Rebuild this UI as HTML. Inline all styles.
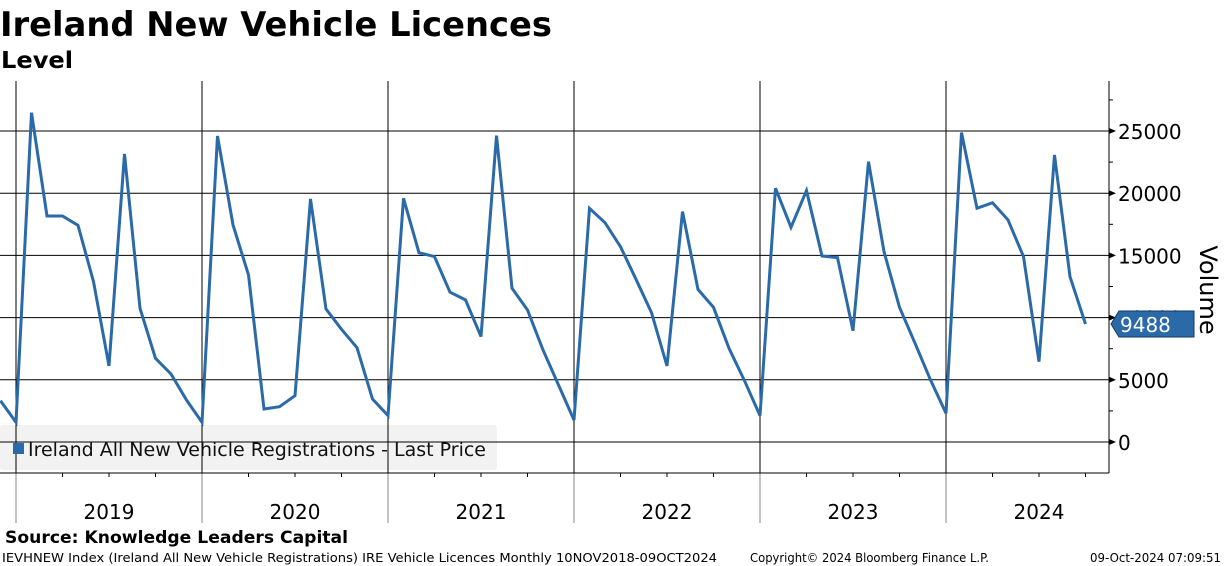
<!DOCTYPE html>
<html><head><meta charset="utf-8"><style>
html,body{margin:0;padding:0;background:#fff;width:1224px;height:566px;overflow:hidden}
svg{display:block}
text{font-family:"DejaVu Sans","Liberation Sans",sans-serif}
</style></head><body>
<svg id="chart" width="1224" height="566" viewBox="0 0 1224 566">
<text x="0" y="36" font-size="34" font-weight="bold" textLength="552" lengthAdjust="spacingAndGlyphs">Ireland New Vehicle Licences</text>
<text x="1" y="68" font-size="23" font-weight="bold" textLength="72" lengthAdjust="spacingAndGlyphs">Level</text>
<rect x="0" y="425" width="497" height="45" rx="3" fill="#f2f2f2"/>
<g id="grid"></g>
<rect x="13" y="443" width="11" height="11" fill="#2b6aa8"/>
<text x="28" y="456" font-size="19" fill="#111" textLength="458" lengthAdjust="spacingAndGlyphs">Ireland All New Vehicle Registrations - Last Price</text>
<g id="marks"></g>
<text transform="translate(1200,290) rotate(90)" font-size="24" text-anchor="middle">Volume</text>
<text x="5" y="543" font-size="17" font-weight="bold" textLength="343" lengthAdjust="spacingAndGlyphs">Source: Knowledge Leaders Capital</text>
<text x="2" y="562" font-size="12" textLength="715" lengthAdjust="spacingAndGlyphs">IEVHNEW Index (Ireland All New Vehicle Registrations) IRE Vehicle Licences  Monthly 10NOV2018-09OCT2024</text>
<text x="750" y="562" font-size="12" textLength="239" lengthAdjust="spacingAndGlyphs">Copyright© 2024 Bloomberg Finance L.P.</text>
<text x="1090" y="562" font-size="12" textLength="131" lengthAdjust="spacingAndGlyphs">09-Oct-2024 07:09:51</text>
</svg>
<script>
const years = ["2019","2020","2021","2022","2023","2024"];
const yTicks = [0,5000,10000,15000,20000,25000];
// Monthly values Nov 2018 .. Sep 2024
const values = [3320,1580,
26470,18170,18170,17420,12890,6110,23150,10750,6730,5470,3380,1580,
24600,17450,13430,2650,2840,3720,19540,10690,9060,7580,3460,2120,
19590,15220,14900,12040,11420,8470,24630,12360,10610,7400,4580,1770,
18790,17630,15700,13080,10400,6110,18520,12270,10830,7530,4930,2120,
20400,17260,20210,14950,14820,8950,22540,15300,10830,7940,4990,2310,
24870,18790,19240,17850,14900,6460,23070,13290,9488];
const lastLabel = "9488";

const NS="http://www.w3.org/2000/svg";
const X0=0.5, DX=15.5, Y0=442, YS=311/25000, RIGHT=1109, TOP=81, BOT=473;
const xAt=i=>X0+i*DX;
const yAt=v=>Y0-v*YS;
function mk(tag,attrs,parent){const e=document.createElementNS(NS,tag);for(const k in attrs)e.setAttribute(k,attrs[k]);parent.appendChild(e);return e;}
const grid=document.getElementById('grid'), marks=document.getElementById('marks');
// year dividers (Jan boundary = index of Dec prior)
years.forEach((yr,k)=>{
  const xb=xAt(1+12*k);
  const l=mk('line',{x1:xb,x2:xb,y1:TOP,y2:BOT,stroke:'#000','stroke-width':1},grid);
  
  
  const l2=mk('line',{x1:xb,x2:xb,y1:BOT,y2:523,stroke:'#888','stroke-width':1},grid);
  
  
  const t=mk('text',{x:xb+93,y:519,'font-size':20,'text-anchor':'middle'},grid);
  t.textContent=yr;
  
  
  for(let q=1;q<4;q++){const xq=xb+q*46.5;const tq=mk('line',{x1:xq,x2:xq,y1:BOT,y2:BOT+4,stroke:'#000'},grid);
    
    }
});
// horizontal gridlines + y ticks
yTicks.forEach(v=>{
  const y=yAt(v);
  const g=mk('line',{x1:0,x2:RIGHT,y1:y,y2:y,stroke:'#000','stroke-width':1},grid);
  
  
  const a=mk('path',{d:`M${RIGHT} ${y-3}L${RIGHT+7} ${y}L${RIGHT} ${y+3}Z`,fill:'#000'},grid);
  
  
  const t=mk('text',{x:RIGHT+9,y:y+8,'font-size':20},grid);
  t.textContent=v;
  
  
});
for(let v=2500;v<28000;v+=5000){const y=yAt(v);const m=mk('line',{x1:RIGHT,x2:RIGHT+4,y1:y,y2:y,stroke:'#000'},grid);
  
  }
const ax=mk('line',{x1:RIGHT,x2:RIGHT,y1:TOP,y2:BOT,stroke:'#000'},grid);


const bx=mk('line',{x1:0,x2:RIGHT,y1:BOT,y2:BOT,stroke:'#000'},grid);


// series line
const pts=values.map((v,i)=>xAt(i).toFixed(1)+','+yAt(v).toFixed(1)).join(' ');
const pl=mk('polyline',{points:pts,fill:'none',stroke:'#2b6aa8','stroke-width':3,'stroke-linejoin':'miter'},marks);


// last value label
const lv=values[values.length-1], ly=yAt(lv);
const tag=mk('path',{d:`M${RIGHT+2} ${ly}L${RIGHT+10} ${ly-13}L1194 ${ly-13}L1194 ${ly+13}L${RIGHT+10} ${ly+13}Z`,fill:'#2b6aa8',stroke:'#123a66','stroke-width':1},marks);


const tt=mk('text',{x:RIGHT+11,y:ly+8,'font-size':20,fill:'#fff'},marks);
tt.textContent=lastLabel;


</script>
</body></html>
